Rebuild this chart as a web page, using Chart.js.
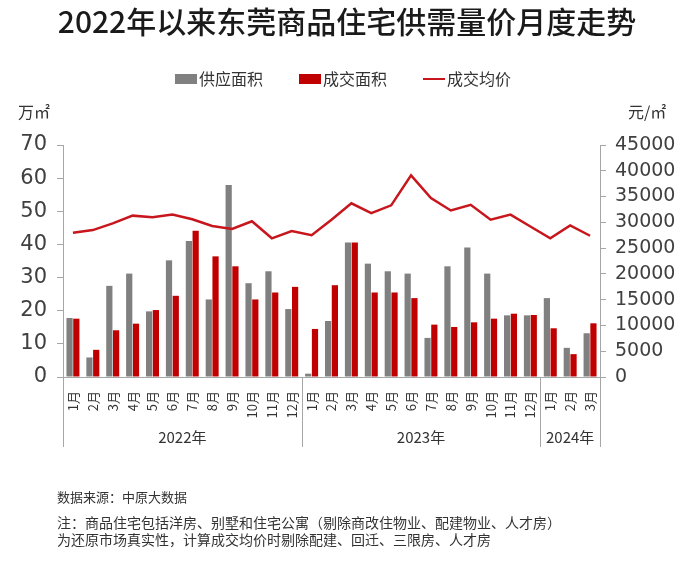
<!DOCTYPE html>
<html>
<head>
  <meta charset="UTF-8">
  <style>
    html, body { margin: 0; padding: 0; background: #fff; }
  </style>
</head>
<body>
  <canvas id="trendChart" width="700" height="578"></canvas>

  <script src="https://cdn.jsdelivr.net/npm/chart.js@4.4.0/dist/chart.umd.min.js"></script>
  <script>
    const months = ["1月", "2月", "3月", "4月", "5月", "6月", "7月", "8月", "9月", "10月", "11月", "12月",
      "1月", "2月", "3月", "4月", "5月", "6月", "7月", "8月", "9月", "10月", "11月", "12月",
      "1月", "2月", "3月"]
    const years = ["2022年", "2023年", "2024年"]
    const yearSpans = [12, 12, 3]

    // 万㎡
    const supply = [17.8, 5.9, 27.5, 31.2, 19.8, 35.2, 41.0, 23.4, 57.9, 28.3, 31.9, 20.5,
      1.0, 16.9, 40.6, 34.2, 31.9, 31.2, 11.8, 33.4, 39.1, 31.2, 18.6, 18.6,
      23.8, 8.8, 13.2]
    const deals = [17.6, 8.2, 14.1, 16.1, 20.2, 24.5, 44.1, 36.4, 33.4, 23.4, 25.5, 27.2,
      14.5, 27.7, 40.6, 25.5, 25.5, 23.8, 15.8, 15.1, 16.5, 17.6, 19.1, 18.7,
      14.7, 6.9, 16.2]
    // 元/㎡
    const price = [28000, 28500, 29800, 31300, 31000, 31500, 30600, 29300, 28700, 30200, 26900, 28300,
      27500, 30500, 33700, 31800, 33300, 39100, 34700, 32300, 33400, 30500, 31500, 29200,
      26900, 29400, 27400]

    const title = "2022年以来东莞商品住宅供需量价月度走势"
    const notes = [
      "数据来源：中原大数据",
      "注：商品住宅包括洋房、别墅和住宅公寓（剔除商改住物业、配建物业、人才房）",
      "为还原市场真实性，计算成交均价时剔除配建、回迁、三限房、人才房"
    ]

    const FONT = "'Noto Sans CJK SC', 'Liberation Sans', sans-serif"
    const axisColor = "#a6a6a6"

    // title, legend, units, year groups and notes
    const extras = {
      id: "extras",
      afterDraw(chart) {
        const c = chart.ctx
        const area = chart.chartArea
        const x = chart.scales.x
        c.save()

        c.fillStyle = "#1a1a1a"
        c.font = "500 30px " + FONT
        c.textAlign = "center"
        c.textBaseline = "middle"
        c.fillText(title, 347, 22)

        // legend
        c.font = "16px " + FONT
        c.textAlign = "left"
        let lx = 175
        const ly = 79
        chart.data.datasets.forEach(ds => {
          if (ds.type === "line") {
            c.strokeStyle = ds.borderColor
            c.lineWidth = 2
            c.beginPath()
            c.moveTo(lx, ly)
            c.lineTo(lx + 22, ly)
            c.stroke()
          } else {
            c.fillStyle = ds.backgroundColor
            c.fillRect(lx, ly - 5, 22, 10)
          }
          c.fillStyle = "#333"
          c.fillText(ds.label, lx + 24, ly)
          lx += 24 + c.measureText(ds.label).width + 36
        })

        // units
        c.fillStyle = "#333"
        c.font = "16px " + FONT
        c.fillText("万㎡", 18, 112)
        c.fillText("元/㎡", 628, 112)

        // year groups
        c.strokeStyle = axisColor
        c.lineWidth = 1
        c.font = "15px " + FONT
        c.textAlign = "center"
        let start = 0
        const bottom = 447
        const edges = [area.left]
        years.forEach((yr, i) => {
          const end = start + yearSpans[i] - 1
          const right = end < months.length - 1
            ? (x.getPixelForValue(end) + x.getPixelForValue(end + 1)) / 2
            : area.right
          edges.push(right)
          const left = edges[i]
          c.fillStyle = "#333"
          c.fillText(yr, (left + right) / 2, 437)
          start = end + 1
        })
        edges.forEach(ex => {
          const px = Math.round(ex) + 0.5
          c.beginPath()
          c.moveTo(px, area.bottom)
          c.lineTo(px, bottom)
          c.stroke()
        })

        // notes
        c.textAlign = "left"
        c.fillStyle = "#333"
        c.font = "13px " + FONT
        c.fillText(notes[0], 57, 497)
        c.font = "14px " + FONT
        c.fillText(notes[1], 57, 523)
        c.fillText(notes[2], 57, 540)

        c.restore()
      }
    }

    const ctx = document.getElementById("trendChart").getContext("2d")

    const chart = new Chart(ctx, {
      data: {
        labels: months,
        datasets: [
          {
            type: "bar",
            label: "供应面积",
            data: supply,
            backgroundColor: "#808080",
            yAxisID: "y",
            order: 2,
            categoryPercentage: 0.68,
            barPercentage: 0.92
          },
          {
            type: "bar",
            label: "成交面积",
            data: deals,
            backgroundColor: "#c00000",
            yAxisID: "y",
            order: 2,
            categoryPercentage: 0.68,
            barPercentage: 0.92
          },
          {
            type: "line",
            label: "成交均价",
            data: price,
            borderColor: "#c8161d",
            borderWidth: 2.5,
            pointRadius: 0,
            tension: 0,
            yAxisID: "y1",
            order: 1
          }
        ]
      },
      options: {
        responsive: false,
        animation: false,
        layout: { padding: { top: 145, left: 0, right: 0, bottom: 0 } },
        plugins: {
          legend: { display: false },
          title: { display: false },
          tooltip: { enabled: false }
        },
        scales: {
          x: {
            grid: { display: false },
            border: { color: axisColor },
            ticks: {
              autoSkip: false,
              maxRotation: 90,
              minRotation: 90,
              padding: 6,
              color: "#333",
              font: { family: FONT, size: 13 }
            },
            afterFit(scale) { scale.height = 201 }
          },
          y: {
            position: "left",
            min: 0,
            max: 70,
            ticks: {
              stepSize: 10,
              autoSkip: false,
              padding: 10,
              color: "#404040",
              font: { family: "'DejaVu Sans', sans-serif", size: 21 }
            },
            grid: { drawOnChartArea: false, tickLength: 6, color: axisColor },
            border: { color: axisColor },
            afterFit(scale) { scale.width = 63 }
          },
          y1: {
            position: "right",
            min: 0,
            max: 45000,
            ticks: {
              stepSize: 5000,
              autoSkip: false,
              padding: 9,
              color: "#404040",
              font: { family: "'DejaVu Sans', sans-serif", size: 19 },
              callback: v => String(v)
            },
            grid: { drawOnChartArea: false, tickLength: 6, color: axisColor },
            border: { color: axisColor },
            afterFit(scale) { scale.width = 100 }
          }
        }
      },
      plugins: [extras]
    })
  </script>
</body>
</html>
